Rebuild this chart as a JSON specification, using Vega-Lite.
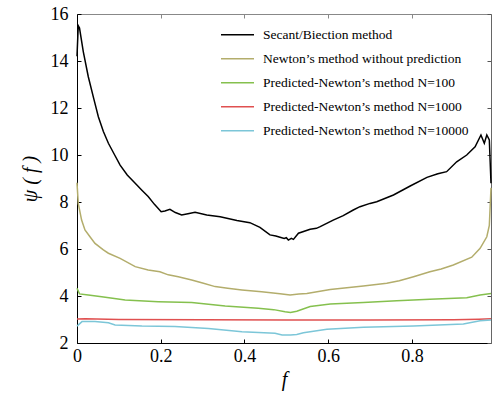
{
"$schema":"https://vega.github.io/schema/vega-lite/v6.json",
"width":414,"height":329,
"autosize":{"type":"none"},
"padding":{"left":77,"top":14,"right":1,"bottom":54},
"config":{"view":{"stroke":null}},
"data":{"values":[
{"s":"Secant/Biection method","f":0,"v":14.2},
{"s":"Secant/Biection method","f":0.003,"v":15.5},
{"s":"Secant/Biection method","f":0.006,"v":15.4},
{"s":"Secant/Biection method","f":0.015,"v":14.4},
{"s":"Secant/Biection method","f":0.027,"v":13.33},
{"s":"Secant/Biection method","f":0.04,"v":12.4},
{"s":"Secant/Biection method","f":0.051,"v":11.63},
{"s":"Secant/Biection method","f":0.063,"v":11.0},
{"s":"Secant/Biection method","f":0.075,"v":10.5},
{"s":"Secant/Biection method","f":0.09,"v":10.0},
{"s":"Secant/Biection method","f":0.103,"v":9.57},
{"s":"Secant/Biection method","f":0.12,"v":9.15},
{"s":"Secant/Biection method","f":0.139,"v":8.8},
{"s":"Secant/Biection method","f":0.155,"v":8.5},
{"s":"Secant/Biection method","f":0.17,"v":8.23},
{"s":"Secant/Biection method","f":0.185,"v":7.9},
{"s":"Secant/Biection method","f":0.201,"v":7.59},
{"s":"Secant/Biection method","f":0.21,"v":7.62},
{"s":"Secant/Biection method","f":0.222,"v":7.69},
{"s":"Secant/Biection method","f":0.235,"v":7.55},
{"s":"Secant/Biection method","f":0.25,"v":7.45},
{"s":"Secant/Biection method","f":0.265,"v":7.5},
{"s":"Secant/Biection method","f":0.282,"v":7.56},
{"s":"Secant/Biection method","f":0.31,"v":7.45},
{"s":"Secant/Biection method","f":0.342,"v":7.37},
{"s":"Secant/Biection method","f":0.382,"v":7.21},
{"s":"Secant/Biection method","f":0.413,"v":7.12},
{"s":"Secant/Biection method","f":0.437,"v":6.92},
{"s":"Secant/Biection method","f":0.461,"v":6.6},
{"s":"Secant/Biection method","f":0.475,"v":6.55},
{"s":"Secant/Biection method","f":0.485,"v":6.5},
{"s":"Secant/Biection method","f":0.495,"v":6.45},
{"s":"Secant/Biection method","f":0.5,"v":6.48},
{"s":"Secant/Biection method","f":0.505,"v":6.38},
{"s":"Secant/Biection method","f":0.512,"v":6.45},
{"s":"Secant/Biection method","f":0.517,"v":6.41},
{"s":"Secant/Biection method","f":0.529,"v":6.67},
{"s":"Secant/Biection method","f":0.557,"v":6.84},
{"s":"Secant/Biection method","f":0.572,"v":6.88},
{"s":"Secant/Biection method","f":0.581,"v":6.95},
{"s":"Secant/Biection method","f":0.612,"v":7.23},
{"s":"Secant/Biection method","f":0.636,"v":7.42},
{"s":"Secant/Biection method","f":0.66,"v":7.66},
{"s":"Secant/Biection method","f":0.676,"v":7.8},
{"s":"Secant/Biection method","f":0.7,"v":7.94},
{"s":"Secant/Biection method","f":0.716,"v":8.01},
{"s":"Secant/Biection method","f":0.756,"v":8.3},
{"s":"Secant/Biection method","f":0.796,"v":8.68},
{"s":"Secant/Biection method","f":0.836,"v":9.05},
{"s":"Secant/Biection method","f":0.862,"v":9.2},
{"s":"Secant/Biection method","f":0.883,"v":9.29},
{"s":"Secant/Biection method","f":0.907,"v":9.71},
{"s":"Secant/Biection method","f":0.931,"v":10.0},
{"s":"Secant/Biection method","f":0.951,"v":10.35},
{"s":"Secant/Biection method","f":0.965,"v":10.85},
{"s":"Secant/Biection method","f":0.973,"v":10.5},
{"s":"Secant/Biection method","f":0.979,"v":10.85},
{"s":"Secant/Biection method","f":0.985,"v":10.64},
{"s":"Secant/Biection method","f":0.989,"v":8.8},
{"s":"Newton’s method without prediction","f":0,"v":8.82},
{"s":"Newton’s method without prediction","f":0.003,"v":7.94},
{"s":"Newton’s method without prediction","f":0.011,"v":7.23},
{"s":"Newton’s method without prediction","f":0.019,"v":6.81},
{"s":"Newton’s method without prediction","f":0.031,"v":6.52},
{"s":"Newton’s method without prediction","f":0.043,"v":6.24},
{"s":"Newton’s method without prediction","f":0.063,"v":5.96},
{"s":"Newton’s method without prediction","f":0.075,"v":5.82},
{"s":"Newton’s method without prediction","f":0.103,"v":5.6},
{"s":"Newton’s method without prediction","f":0.139,"v":5.25},
{"s":"Newton’s method without prediction","f":0.17,"v":5.11},
{"s":"Newton’s method without prediction","f":0.198,"v":5.03},
{"s":"Newton’s method without prediction","f":0.218,"v":4.9},
{"s":"Newton’s method without prediction","f":0.242,"v":4.82},
{"s":"Newton’s method without prediction","f":0.274,"v":4.68},
{"s":"Newton’s method without prediction","f":0.3,"v":4.55},
{"s":"Newton’s method without prediction","f":0.33,"v":4.4},
{"s":"Newton’s method without prediction","f":0.36,"v":4.33},
{"s":"Newton’s method without prediction","f":0.394,"v":4.26},
{"s":"Newton’s method without prediction","f":0.441,"v":4.18},
{"s":"Newton’s method without prediction","f":0.485,"v":4.1},
{"s":"Newton’s method without prediction","f":0.509,"v":4.04},
{"s":"Newton’s method without prediction","f":0.53,"v":4.08},
{"s":"Newton’s method without prediction","f":0.549,"v":4.11},
{"s":"Newton’s method without prediction","f":0.605,"v":4.28},
{"s":"Newton’s method without prediction","f":0.684,"v":4.43},
{"s":"Newton’s method without prediction","f":0.74,"v":4.54},
{"s":"Newton’s method without prediction","f":0.77,"v":4.65},
{"s":"Newton’s method without prediction","f":0.804,"v":4.82},
{"s":"Newton’s method without prediction","f":0.843,"v":5.03},
{"s":"Newton’s method without prediction","f":0.87,"v":5.15},
{"s":"Newton’s method without prediction","f":0.899,"v":5.32},
{"s":"Newton’s method without prediction","f":0.943,"v":5.65},
{"s":"Newton’s method without prediction","f":0.963,"v":6.03},
{"s":"Newton’s method without prediction","f":0.979,"v":6.52},
{"s":"Newton’s method without prediction","f":0.985,"v":7.0},
{"s":"Newton’s method without prediction","f":0.989,"v":8.6},
{"s":"Predicted-Newton’s method N=100","f":0,"v":4.33},
{"s":"Predicted-Newton’s method N=100","f":0.006,"v":4.09},
{"s":"Predicted-Newton’s method N=100","f":0.027,"v":4.04},
{"s":"Predicted-Newton’s method N=100","f":0.059,"v":3.97},
{"s":"Predicted-Newton’s method N=100","f":0.085,"v":3.9},
{"s":"Predicted-Newton’s method N=100","f":0.115,"v":3.83},
{"s":"Predicted-Newton’s method N=100","f":0.194,"v":3.76},
{"s":"Predicted-Newton’s method N=100","f":0.274,"v":3.72},
{"s":"Predicted-Newton’s method N=100","f":0.354,"v":3.57},
{"s":"Predicted-Newton’s method N=100","f":0.433,"v":3.48},
{"s":"Predicted-Newton’s method N=100","f":0.47,"v":3.42},
{"s":"Predicted-Newton’s method N=100","f":0.497,"v":3.33},
{"s":"Predicted-Newton’s method N=100","f":0.51,"v":3.3},
{"s":"Predicted-Newton’s method N=100","f":0.525,"v":3.35},
{"s":"Predicted-Newton’s method N=100","f":0.557,"v":3.55},
{"s":"Predicted-Newton’s method N=100","f":0.605,"v":3.66},
{"s":"Predicted-Newton’s method N=100","f":0.684,"v":3.72},
{"s":"Predicted-Newton’s method N=100","f":0.764,"v":3.8},
{"s":"Predicted-Newton’s method N=100","f":0.843,"v":3.86},
{"s":"Predicted-Newton’s method N=100","f":0.931,"v":3.93},
{"s":"Predicted-Newton’s method N=100","f":0.963,"v":4.04},
{"s":"Predicted-Newton’s method N=100","f":0.989,"v":4.11},
{"s":"Predicted-Newton’s method N=1000","f":0,"v":3.02},
{"s":"Predicted-Newton’s method N=1000","f":0.02,"v":3.03},
{"s":"Predicted-Newton’s method N=1000","f":0.1,"v":3.0},
{"s":"Predicted-Newton’s method N=1000","f":0.3,"v":2.99},
{"s":"Predicted-Newton’s method N=1000","f":0.5,"v":2.98},
{"s":"Predicted-Newton’s method N=1000","f":0.7,"v":2.98},
{"s":"Predicted-Newton’s method N=1000","f":0.9,"v":2.99},
{"s":"Predicted-Newton’s method N=1000","f":0.96,"v":3.01},
{"s":"Predicted-Newton’s method N=1000","f":0.989,"v":3.03},
{"s":"Predicted-Newton’s method N=10000","f":0,"v":2.72},
{"s":"Predicted-Newton’s method N=10000","f":0.012,"v":2.91},
{"s":"Predicted-Newton’s method N=10000","f":0.043,"v":2.91},
{"s":"Predicted-Newton’s method N=10000","f":0.075,"v":2.86},
{"s":"Predicted-Newton’s method N=10000","f":0.091,"v":2.77},
{"s":"Predicted-Newton’s method N=10000","f":0.155,"v":2.72},
{"s":"Predicted-Newton’s method N=10000","f":0.234,"v":2.7},
{"s":"Predicted-Newton’s method N=10000","f":0.314,"v":2.62},
{"s":"Predicted-Newton’s method N=10000","f":0.394,"v":2.48},
{"s":"Predicted-Newton’s method N=10000","f":0.473,"v":2.41},
{"s":"Predicted-Newton’s method N=10000","f":0.49,"v":2.34},
{"s":"Predicted-Newton’s method N=10000","f":0.51,"v":2.34},
{"s":"Predicted-Newton’s method N=10000","f":0.525,"v":2.36},
{"s":"Predicted-Newton’s method N=10000","f":0.541,"v":2.44},
{"s":"Predicted-Newton’s method N=10000","f":0.597,"v":2.58},
{"s":"Predicted-Newton’s method N=10000","f":0.684,"v":2.67},
{"s":"Predicted-Newton’s method N=10000","f":0.804,"v":2.72},
{"s":"Predicted-Newton’s method N=10000","f":0.923,"v":2.81},
{"s":"Predicted-Newton’s method N=10000","f":0.963,"v":2.95},
{"s":"Predicted-Newton’s method N=10000","f":0.989,"v":2.98}
]},
"layer":[
{"mark":{"type":"line","strokeWidth":1.5},
 "encoding":{
  "x":{"field":"f","type":"quantitative","scale":{"domain":[0,0.989],"nice":false,"zero":false},
       "axis":{"orient":"bottom","values":[0,0.2,0.4,0.6,0.8],"format":"~g","grid":false,"tickSize":-4,"tickColor":"#000","domainColor":"#000","labelColor":"#000","labelFont":"Liberation Serif","labelFontSize":18,"labelPadding":8,"labelFlush":false,"title":"f","titleColor":"#000","titleFont":"Liberation Serif","titleFontSize":20,"titleFontStyle":"italic","titleFontWeight":"normal","titlePadding":4}},
  "y":{"field":"v","type":"quantitative","scale":{"domain":[2,16],"nice":false,"zero":false},
       "axis":{"orient":"left","values":[2,4,6,8,10,12,14,16],"grid":false,"tickSize":-4,"tickColor":"#000","domainColor":"#000","labelColor":"#000","labelFont":"Liberation Serif","labelFontSize":18,"labelPadding":13,"labelFlush":false,"title":"ψ ( f )","titleColor":"#000","titleFont":"Liberation Serif","titleFontSize":20,"titleFontStyle":"italic","titleFontWeight":"normal","titlePadding":10}},
  "color":{"field":"s","type":"nominal",
    "scale":{"domain":["Secant/Biection method","Newton’s method without prediction","Predicted-Newton’s method N=100","Predicted-Newton’s method N=1000","Predicted-Newton’s method N=10000"],
             "range":["#000000","#b3ad6c","#85c04e","#e05050","#7cc6d8"]},
    "legend":{"title":null,"orient":"none","legendX":143,"legendY":9,"padding":0,"rowPadding":0,"clipHeight":23.5,"symbolType":"stroke","symbolSize":1089,"symbolStrokeWidth":1.5,"labelOffset":8,"labelFontSize":13.5,"labelFont":"Liberation Serif","labelColor":"#000","labelLimit":400}}
 }},
{"mark":{"type":"line","opacity":0},
 "encoding":{
  "x":{"field":"f","type":"quantitative","axis":{"orient":"top","values":[0,0.2,0.4,0.6,0.8],"grid":false,"tickSize":-4,"tickColor":"#888","domainColor":"#888","labels":false,"title":null}},
  "y":{"field":"v","type":"quantitative","axis":{"orient":"right","values":[2,4,6,8,10,12,14,16],"grid":false,"tickSize":-4,"tickColor":"#555","domainColor":"#666","labels":false,"title":null}},
  "detail":{"field":"s"}
 }}
],
"resolve":{"axis":{"x":"independent","y":"independent"}}
}
